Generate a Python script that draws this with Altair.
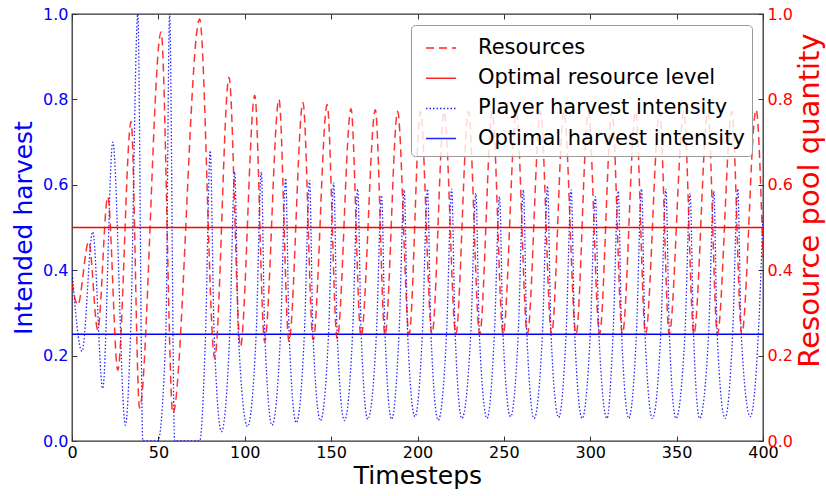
import altair as alt
import pandas as pd

# Axis ticks
x_ticks = [0, 50, 100, 150, 200, 250, 300, 350, 400]
y_ticks = [0.0, 0.2, 0.4, 0.6, 0.8, 1.0]

# Legend entries and their styles
series_names = ["Resources", "Optimal resource level",
                "Player harvest intensity", "Optimal harvest intensity"]
series_colors = ["#ff0000", "#ff0000", "#0000ff", "#0000ff"]
series_dashes = [[8, 5], [1, 0], [1.5, 2], [1, 0]]

# Resource pool quantity (right axis): turning points of the simulation
res_t = [0, 3.3, 9.7, 14.9, 20.7, 26.5, 34.2, 39.1, 51.6, 58.4, 73.9, 82.6, 90.9, 97.5,
         105.8, 111.5, 119.8, 125.6, 133.7, 139.6, 147.7, 153.5, 161.5, 167.3,
         175.6, 181.2, 188.5, 195.2, 201.7, 208.4, 215.5, 222.2, 229.5, 236,
         243.3, 249.6, 257.2, 263.6, 271.2, 277.6, 284.8, 291.8, 298.9, 305.4,
         312.6, 318.6, 326.3, 332, 340.2, 345.7, 354.2, 360, 368.1, 373.6,
         382, 387.7, 396, 400]
res_v = [0.37, 0.318, 0.467, 0.26, 0.572, 0.166, 0.748, 0.077, 0.958, 0.065, 0.988, 0.194, 0.852, 0.221,
         0.81, 0.233, 0.80, 0.233, 0.793, 0.237, 0.788, 0.24, 0.778, 0.244,
         0.776, 0.247, 0.772, 0.25, 0.772, 0.25, 0.772, 0.25, 0.772, 0.25,
         0.772, 0.25, 0.772, 0.25, 0.772, 0.25, 0.772, 0.25, 0.772, 0.25,
         0.772, 0.25, 0.772, 0.25, 0.772, 0.25, 0.772, 0.25, 0.772, 0.25,
         0.772, 0.25, 0.776, 0.43]

# Player harvest intensity (left axis): turning points and 0.25-level crossings
harv_t = [0, 5.8, 12, 17.8, 23.6, 30.9, 33.9, 38.1, 41, 49.7, 54.3, 56.5, 59.4, 73.9,
          77.3, 80, 82.3, 86.5,
          91.3, 94.2, 96.3, 101.6,
          106.6, 109.6, 111.6, 115.8,
          120.7, 123.7, 125.7, 129.8,
          134.5, 137.5, 139.5, 143.8,
          148.5, 151.5, 153.5, 157.7,
          162.4, 165.4, 167.4, 171.2,
          176.2, 179.2, 181.2, 185,
          189.3, 192.3, 194.3, 198.5,
          202.8, 205.8, 207.8, 212,
          216.8, 219.8, 221.8, 225.7,
          230.8, 233.8, 235.8, 240.3,
          244.5, 247.5, 249.5, 253.9,
          258.3, 261.3, 263.3, 267.5,
          272.3, 275.3, 277.3, 281.7,
          286, 289, 291, 295.3,
          300, 303, 305, 309.7,
          313.2, 316.2, 318.2, 322.3,
          326.7, 329.7, 331.7, 336,
          340.8, 343.8, 345.8, 349.6,
          354.8, 357.8, 359.8, 363.3,
          368.5, 371.5, 373.5, 378,
          382.4, 385.4, 387.4, 392.6,
          397.3, 400]
harv_v = [0.40, 0.21, 0.49, 0.123, 0.70, 0.037, 0.25, 1.0, 0.0, 0.0, 0.25, 1.0, 0.0, 0.0,
          0.25, 0.68, 0.25, 0.022,
          0.25, 0.63, 0.25, 0.034,
          0.25, 0.63, 0.25, 0.037,
          0.25, 0.615, 0.25, 0.043,
          0.25, 0.61, 0.25, 0.048,
          0.25, 0.605, 0.25, 0.048,
          0.25, 0.59, 0.25, 0.051,
          0.25, 0.575, 0.25, 0.051,
          0.25, 0.588, 0.25, 0.057,
          0.25, 0.59, 0.25, 0.049,
          0.25, 0.59, 0.25, 0.053,
          0.25, 0.58, 0.25, 0.053,
          0.25, 0.572, 0.25, 0.057,
          0.25, 0.588, 0.25, 0.053,
          0.25, 0.597, 0.25, 0.055,
          0.25, 0.588, 0.25, 0.053,
          0.25, 0.572, 0.25, 0.053,
          0.25, 0.585, 0.25, 0.053,
          0.25, 0.59, 0.25, 0.053,
          0.25, 0.59, 0.25, 0.053,
          0.25, 0.58, 0.25, 0.053,
          0.25, 0.585, 0.25, 0.053,
          0.25, 0.59, 0.25, 0.057,
          0.25, 0.53]

# Optimal levels, held over the whole run
opt_t = [0, 400]
opt_resource = [0.5, 0.5]
opt_harvest = [0.25, 0.25]

res_df = pd.DataFrame({"t": res_t, "value": res_v, "series": series_names[0]})
opt_res_df = pd.DataFrame({"t": opt_t, "value": opt_resource, "series": series_names[1]})
harv_df = pd.DataFrame({"t": harv_t, "value": harv_v, "series": series_names[2]})
opt_harv_df = pd.DataFrame({"t": opt_t, "value": opt_harvest, "series": series_names[3]})

FRAME = "#333333"

legend = alt.Legend(
    title=None, orient="top-right", offset=11,
    symbolType="stroke", symbolSize=900, symbolStrokeWidth=1.5, symbolOffset=7,
    labelFontSize=21, labelLimit=500, labelOffset=21, labelColor="black",
    padding=7, rowPadding=4.2,
    fillColor="rgba(255,255,255,0.8)", strokeColor="#999999", cornerRadius=4,
)
color = alt.Color("series:N", scale=alt.Scale(domain=series_names, range=series_colors), legend=legend)
dash = alt.StrokeDash("series:N", scale=alt.Scale(domain=series_names, range=series_dashes), legend=legend)

x_scale = alt.Scale(domain=[0, 400], nice=False)
y_scale = alt.Scale(domain=[0, 1], nice=False, zero=False)

# Inward ticks: the axis line sits inside the frame and its ticks reach out to the edge
tick_style = dict(domain=False, grid=False, offset=-5, tickSize=5, tickColor=FRAME,
                  tickWidth=1, ticks=True, labelOverlap=False)

bottom_axis = alt.Axis(orient="bottom", values=x_ticks, format="d", labelFlush=False,
                       labelFontSize=16, labelColor="black", labelPadding=3,
                       title="Timesteps", titleFontSize=25, titleFontWeight="normal",
                       titleColor="black", titlePadding=3, **tick_style)
top_axis = alt.Axis(orient="top", values=x_ticks, labels=False, title=None, **tick_style)
left_axis = alt.Axis(orient="left", values=y_ticks, format=".1f", labelFontSize=16,
                     labelColor="#0000ff", labelPadding=4,
                     title="Intended harvest", titleFontSize=25, titleFontWeight="normal",
                     titleColor="#0000ff", titlePadding=6, **tick_style)
right_axis = alt.Axis(orient="right", values=y_ticks, format=".1f", labelFontSize=16,
                      labelColor="#ff0000", labelPadding=4,
                      title="Resource pool quantity", titleFontSize=29, titleFontWeight="normal",
                      titleColor="#ff0000", titlePadding=3, titleAngle=270, titleBaseline="top",
                      titleY=186, **tick_style)

harv_x = alt.X("t:Q", scale=x_scale, axis=bottom_axis)
res_x = alt.X("t:Q", scale=x_scale, axis=top_axis)
harv_y = alt.Y("value:Q", scale=y_scale, axis=left_axis)
res_y = alt.Y("value:Q", scale=y_scale, axis=right_axis)

harv_line = alt.Chart(harv_df).mark_line(
    interpolate="monotone", strokeWidth=1.3, opacity=0.85, clip=True
).encode(x=harv_x, y=harv_y, color=color, strokeDash=dash)
harv_opt = alt.Chart(opt_harv_df).mark_line(strokeWidth=1.4).encode(
    x=harv_x, y=harv_y, color=color, strokeDash=dash)

res_line = alt.Chart(res_df).mark_line(
    interpolate="monotone", strokeWidth=1.5, opacity=0.8, clip=True
).encode(x=res_x, y=res_y, color=color, strokeDash=dash)
res_opt = alt.Chart(opt_res_df).mark_line(strokeWidth=1.6).encode(
    x=res_x, y=res_y, color=color, strokeDash=dash)

harvest_layer = alt.layer(harv_opt, harv_line)
resource_layer = alt.layer(res_line, res_opt)

chart = (
    alt.layer(harvest_layer, resource_layer)
    .resolve_scale(y="independent")
    .resolve_axis(x="independent")
    .properties(
        width=691, height=427,
        autosize=alt.AutoSizeParams(type="none"),
        padding={"left": 72, "top": 14, "right": 63, "bottom": 55},
        background="white",
    )
    .configure(font="DejaVu Sans")
    .configure_view(stroke=FRAME, strokeWidth=1.3)
)

chart.save("out.html", embed_options={"renderer": "svg", "actions": False})
